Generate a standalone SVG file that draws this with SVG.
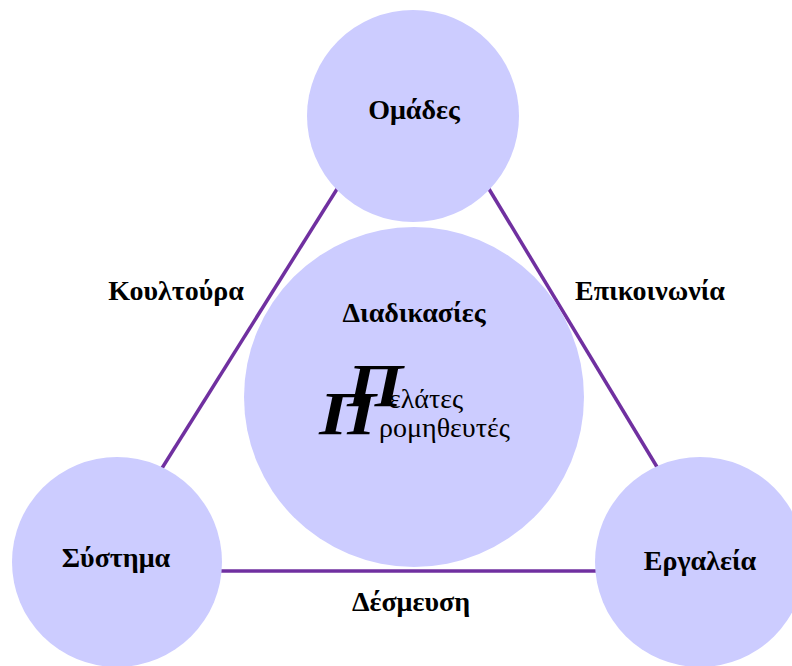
<svg xmlns="http://www.w3.org/2000/svg" width="792" height="666" viewBox="0 0 792 666">
  <style>
    .node { fill: #CCCCFF; }
    .edge { stroke: #7030A0; stroke-width: 3.5; fill: none; }
    .lbl { font-family: "Liberation Serif", "Times New Roman", serif; font-weight: bold; font-size: 28px; fill: #000; text-anchor: middle; }
    .sub { font-family: "Liberation Serif", "Times New Roman", serif; font-size: 28px; fill: #000; }
    .cap { font-family: "Liberation Serif", "Times New Roman", serif; font-weight: bold; font-style: italic; font-size: 62px; fill: #000; }
  </style>
  <rect width="792" height="666" fill="#FFFFFF"/>

  <!-- triangle of connectors between the corner circles -->
  <g id="connectors">
    <line class="edge" x1="364" y1="146" x2="142" y2="500"/>
    <line class="edge" x1="463" y1="146" x2="677" y2="500"/>
    <line class="edge" x1="200" y1="571" x2="620" y2="571"/>
  </g>

  <g id="node-omades">
    <circle class="node" cx="413" cy="116" r="106"/>
    <text class="lbl" x="414" y="119">Ομάδες</text>
  </g>

  <g id="node-diadikasies">
    <circle class="node" cx="414" cy="397" r="170"/>
    <text class="lbl" x="414" y="322">Διαδικασίες</text>
    <!-- drop-cap Π for both lines -->
    <text class="cap" x="347" y="406" textLength="56" lengthAdjust="spacingAndGlyphs">Π</text>
    <text class="sub" x="389" y="408">ελάτες</text>
    <text class="cap" x="319" y="434" textLength="57" lengthAdjust="spacingAndGlyphs">Π</text>
    <text class="sub" x="379" y="437">ρομηθευτές</text>
  </g>

  <g id="node-systima">
    <circle class="node" cx="117" cy="562" r="105"/>
    <text class="lbl" x="116" y="567">Σύστημα</text>
  </g>

  <g id="node-ergaleia">
    <circle class="node" cx="700" cy="562" r="105"/>
    <text class="lbl" x="700" y="570">Εργαλεία</text>
  </g>

  <g id="edge-labels">
    <text class="lbl" x="176" y="300">Κουλτούρα</text>
    <text class="lbl" x="650" y="300">Επικοινωνία</text>
    <text class="lbl" x="411" y="611">Δέσμευση</text>
  </g>
</svg>
